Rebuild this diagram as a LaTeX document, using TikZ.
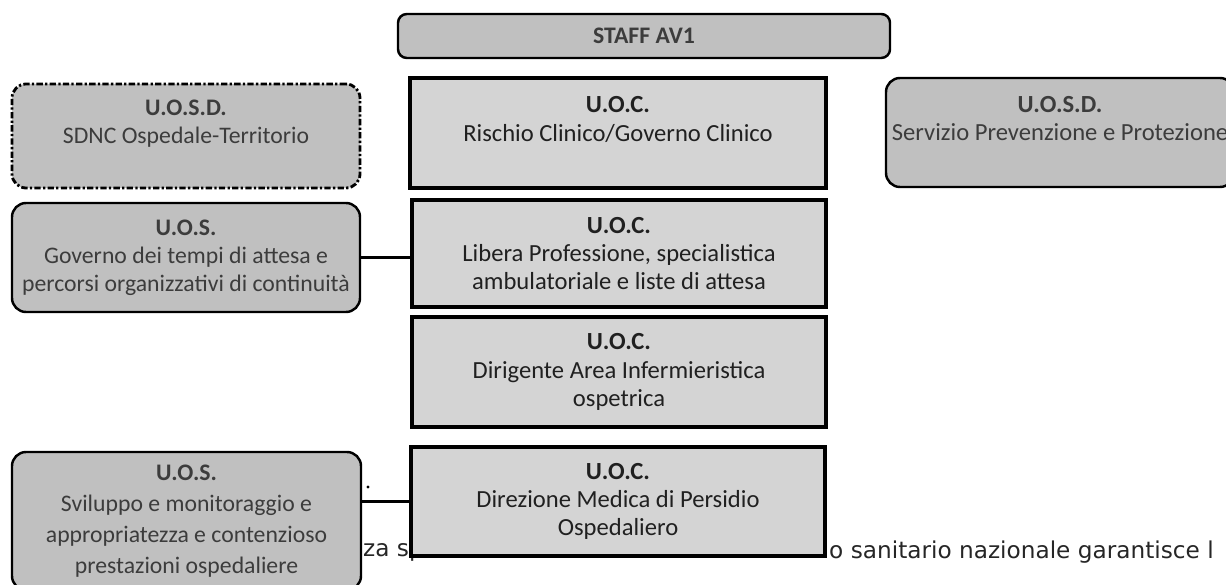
\documentclass[tikz,border=0pt]{standalone}
\usepackage{fontspec}
\setmainfont{Carlito}
\newfontfamily\pagefont{DejaVu Sans}
\usetikzlibrary{positioning}
\definecolor{cside}{HTML}{C0C0C0}
\definecolor{cmid}{HTML}{D4D4D4}
\definecolor{cink}{HTML}{3C3C3C}
\definecolor{cdark}{HTML}{202020}
\tikzset{
  every picture/.style={line width=1.4pt},
  unit/.style={draw=black, fill=#1, align=center, inner sep=1pt, text=cink, font=\fontsize{13.5}{16}\selectfont},
  unit/.default=cside,
  link/.style={draw=black, line width=1.5pt},
  pagetext/.style={font=\pagefont\fontsize{13.2}{15}\selectfont, text=black!85, inner sep=0pt, anchor=west},
}

\begin{document}
\begin{tikzpicture}[
  side/.style={unit=cside, rounded corners=8pt, minimum width=6.96cm, minimum height=2.18cm},
  mid/.style={unit=cmid, line width=1.9pt, text=cdark, font=\fontsize{14}{16}\selectfont, minimum width=8.28cm, minimum height=2.18cm}]
  \clip (0,0) rectangle (24.52,-11.7);
  % text of the page behind the chart
  \node[pagetext] (bg1) at (7.24,-11.04) {za sp};
  \node[pagetext] (bg2) at (16.56,-11.04) {o sanitario nazionale garantisce l};
  \fill (7.36,-9.74) circle (0.9pt);
  \node[unit, rounded corners=5pt, minimum width=9.84cm, minimum height=0.88cm] (staff) at (12.88,-0.72) {\textbf{STAFF AV1}};
  \node[side, line width=1.6pt, dash pattern=on 3.6pt off 1.3pt on 1.3pt off 1.3pt, minimum height=2.08cm] (sdnc) at (3.72,-2.72) {\textbf{U.O.S.D.}\\SDNC Ospedale-Territorio\\~};
  \node[side, font=\fontsize{14}{16}\selectfont] (spp) at (21.2,-2.65) {\textbf{U.O.S.D.}\\Servizio Prevenzione e Protezione\\~};
  \node[side] (gov) at (3.72,-5.15) {\textbf{U.O.S.}\\Governo dei tempi di attesa e\\percorsi organizzativi di continuità};
  \node[side, minimum width=6.98cm, minimum height=2.76cm, font=\fontsize{13.5}{17.5}\selectfont] (svi) at (3.73,-10.42) {\textbf{U.O.S.}\\Sviluppo e monitoraggio e\\appropriatezza e contenzioso\\prestazioni ospedaliere};
  \node[mid, minimum width=8.32cm, minimum height=2.2cm] (risk) at (12.36,-2.66) {\textbf{U.O.C.}\\Rischio Clinico/Governo Clinico\\~};
  \node[mid, minimum height=2.14cm] (lib) at (12.38,-5.07) {\textbf{U.O.C.}\\Libera Professione, specialistica\\ambulatoriale e liste di attesa};
  \node[mid, minimum height=2.2cm] (dir) at (12.38,-7.44) {\textbf{U.O.C.}\\Dirigente Area Infermieristica\\ospetrica};
  \node[mid] (med) at (12.36,-10.03) {\textbf{U.O.C.}\\Direzione Medica di Persidio\\Ospedaliero};
  \draw[link] (gov.east) -- (gov.east -| lib.west);
  \draw[link] (med.west) -- (med.west -| svi.east);
\end{tikzpicture}
\end{document}
